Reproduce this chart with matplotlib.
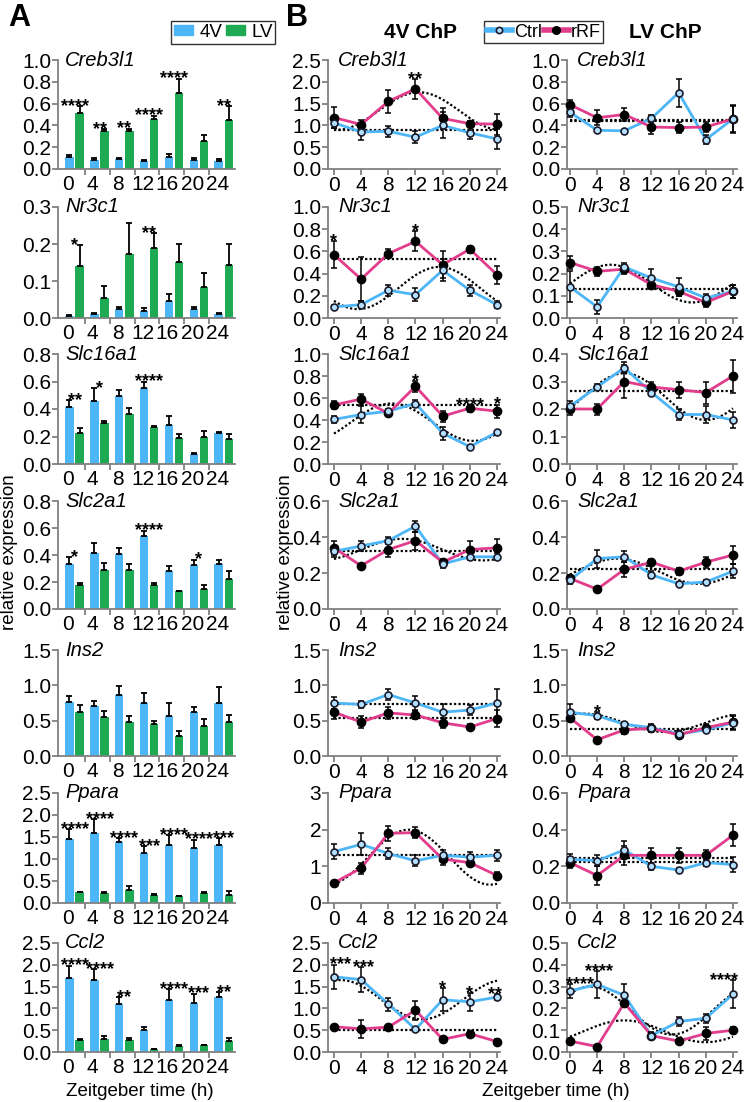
import numpy as np
import matplotlib
matplotlib.use('Agg')
import matplotlib.pyplot as plt
from matplotlib.lines import Line2D
from matplotlib.patches import Patch

plt.rcParams['font.family'] = ['Liberation Sans', 'DejaVu Sans']

# ---------------- data ----------------
TIMES = [0, 4, 8, 12, 16, 20, 24]
TIME_LABELS = ['0', '4', '8', '12', '16', '20', '24']
GENES = ['Creb3l1', 'Nr3c1', 'Slc16a1', 'Slc2a1', 'Ins2', 'Ppara', 'Ccl2']

# Panel A : bars (4V vs LV)
A_YTICKS = [[0, 0.2, 0.4, 0.6, 0.8, 1.0], [0, 0.1, 0.2, 0.3], [0, 0.2, 0.4, 0.6, 0.8],
            [0, 0.2, 0.4, 0.6, 0.8], [0, 0.5, 1.0, 1.5], [0, 0.5, 1.0, 1.5, 2.0, 2.5],
            [0, 0.5, 1.0, 1.5, 2.0, 2.5]]
A_4V_MEAN = [[0.11, 0.08, 0.09, 0.07, 0.11, 0.08, 0.07],
             [0.005, 0.01, 0.025, 0.02, 0.045, 0.025, 0.01],
             [0.417, 0.46, 0.497, 0.555, 0.284, 0.075, 0.228],
             [0.336, 0.415, 0.41, 0.54, 0.28, 0.324, 0.33],
             [0.77, 0.71, 0.86, 0.755, 0.566, 0.62, 0.745],
             [1.455, 1.6, 1.38, 1.14, 1.325, 1.25, 1.31],
             [1.70, 1.64, 1.09, 0.50, 1.19, 1.13, 1.26]]
A_4V_ERR = [[0.02, 0.02, 0.01, 0.01, 0.03, 0.02, 0.02],
            [0.002, 0.003, 0.006, 0.006, 0.02, 0.006, 0.003],
            [0.048, 0.09, 0.04, 0.045, 0.066, 0.005, 0.003],
            [0.049, 0.075, 0.04, 0.04, 0.04, 0.042, 0.036],
            [0.08, 0.07, 0.13, 0.14, 0.18, 0.08, 0.225],
            [0.225, 0.31, 0.10, 0.15, 0.225, 0.19, 0.17],
            [0.28, 0.26, 0.17, 0.08, 0.26, 0.21, 0.11]]
A_LV_MEAN = [[0.51, 0.35, 0.345, 0.46, 0.70, 0.26, 0.45],
             [0.14, 0.055, 0.172, 0.19, 0.151, 0.085, 0.143],
             [0.223, 0.296, 0.364, 0.27, 0.19, 0.20, 0.18],
             [0.175, 0.287, 0.29, 0.175, 0.133, 0.15, 0.22],
             [0.62, 0.55, 0.485, 0.45, 0.29, 0.424, 0.476],
             [0.24, 0.23, 0.30, 0.18, 0.16, 0.22, 0.19],
             [0.28, 0.30, 0.27, 0.06, 0.14, 0.15, 0.26]]
A_LV_ERR = [[0.07, 0.015, 0.025, 0.03, 0.13, 0.055, 0.13],
            [0.057, 0.031, 0.084, 0.039, 0.049, 0.037, 0.056],
            [0.037, 0.02, 0.04, 0.01, 0.03, 0.04, 0.04],
            [0.015, 0.053, 0.04, 0.02, 0.003, 0.03, 0.06],
            [0.10, 0.08, 0.08, 0.045, 0.065, 0.10, 0.10],
            [0.02, 0.02, 0.08, 0.02, 0.01, 0.03, 0.09],
            [0.02, 0.06, 0.04, 0.02, 0.02, 0.02, 0.06]]
A_STARS = [['****', '**', '**', '****', '****', '', '**'],
           ['*', '', '', '**', '', '', ''],
           ['**', '*', '', '****', '', '', ''],
           ['*', '', '', '****', '', '*', ''],
           ['', '', '', '', '', '', ''],
           ['****', '****', '****', '***', '****', '****', '***'],
           ['****', '****', '**', '', '****', '***', '**']]

# Panel B : time courses (Ctrl vs rRF), 4V ChP column and LV ChP column
B4_YTICKS = [[0, 0.5, 1.0, 1.5, 2.0, 2.5], [0, 0.2, 0.4, 0.6, 0.8, 1.0], [0, 0.2, 0.4, 0.6, 0.8, 1.0],
             [0, 0.2, 0.4, 0.6], [0, 0.5, 1.0, 1.5], [0, 1, 2, 3], [0, 0.5, 1.0, 1.5, 2.0, 2.5]]
BL_YTICKS = [[0, 0.2, 0.4, 0.6, 0.8, 1.0], [0, 0.1, 0.2, 0.3, 0.4, 0.5], [0, 0.1, 0.2, 0.3, 0.4],
             [0, 0.2, 0.4, 0.6], [0, 0.5, 1.0, 1.5], [0, 0.2, 0.4, 0.6], [0, 0.1, 0.2, 0.3, 0.4, 0.5]]
B4_YFMT = ['%.1f', '%.1f', '%.1f', '%.1f', '%.1f', '%d', '%.1f']
BL_YFMT = ['%.1f'] * 7

B4_CTRL_MEAN = [[1.06, 0.85, 0.865, 0.73, 1.0, 0.83, 0.69],
                [0.10, 0.12, 0.25, 0.21, 0.43, 0.25, 0.12],
                [0.405, 0.45, 0.48, 0.55, 0.28, 0.157, 0.29],
                [0.32, 0.35, 0.38, 0.46, 0.25, 0.29, 0.29],
                [0.75, 0.73, 0.87, 0.75, 0.62, 0.65, 0.75],
                [1.4, 1.6, 1.35, 1.15, 1.3, 1.25, 1.3],
                [1.725, 1.66, 1.1, 0.52, 1.2, 1.15, 1.26]]
B4_CTRL_ERR = [[0.12, 0.19, 0.13, 0.14, 0.3, 0.15, 0.22],
               [0.02, 0.03, 0.05, 0.06, 0.10, 0.05, 0.03],
               [0.03, 0.08, 0.02, 0.03, 0.06, 0.01, 0.01],
               [0.03, 0.03, 0.02, 0.03, 0.02, 0.02, 0.02],
               [0.08, 0.05, 0.08, 0.10, 0.12, 0.07, 0.2],
               [0.2, 0.3, 0.15, 0.15, 0.15, 0.15, 0.15],
               [0.28, 0.28, 0.15, 0.04, 0.27, 0.2, 0.07]]
B4_RRF_MEAN = [[1.18, 1.02, 1.55, 1.84, 1.16, 1.04, 1.03],
               [0.57, 0.35, 0.58, 0.69, 0.48, 0.62, 0.39],
               [0.537, 0.59, 0.46, 0.706, 0.435, 0.507, 0.48],
               [0.34, 0.24, 0.33, 0.38, 0.26, 0.33, 0.34],
               [0.62, 0.48, 0.61, 0.58, 0.47, 0.41, 0.53],
               [0.55, 0.95, 1.9, 1.92, 1.2, 1.1, 0.75],
               [0.58, 0.53, 0.57, 0.96, 0.29, 0.42, 0.24]]
B4_RRF_ERR = [[0.24, 0.1, 0.27, 0.23, 0.25, 0.05, 0.24],
              [0.12, 0.2, 0.04, 0.09, 0.12, 0.03, 0.08],
              [0.04, 0.05, 0.02, 0.05, 0.05, 0.03, 0.06],
              [0.04, 0.01, 0.04, 0.05, 0.02, 0.05, 0.05],
              [0.1, 0.08, 0.08, 0.05, 0.07, 0.04, 0.12],
              [0.05, 0.15, 0.2, 0.15, 0.15, 0.1, 0.1],
              [0.05, 0.2, 0.02, 0.22, 0.03, 0.07, 0.06]]
BL_CTRL_MEAN = [[0.52, 0.355, 0.35, 0.465, 0.70, 0.27, 0.46],
                [0.14, 0.05, 0.23, 0.18, 0.14, 0.09, 0.12],
                [0.21, 0.28, 0.35, 0.26, 0.18, 0.18, 0.16],
                [0.16, 0.28, 0.29, 0.19, 0.14, 0.15, 0.21],
                [0.62, 0.57, 0.45, 0.40, 0.31, 0.37, 0.47],
                [0.24, 0.23, 0.29, 0.20, 0.18, 0.22, 0.21],
                [0.28, 0.31, 0.26, 0.075, 0.14, 0.155, 0.265]]
BL_CTRL_ERR = [[0.04, 0.01, 0.01, 0.03, 0.13, 0.04, 0.13],
               [0.07, 0.03, 0.02, 0.04, 0.04, 0.02, 0.03],
               [0.02, 0.01, 0.02, 0.01, 0.02, 0.03, 0.03],
               [0.02, 0.05, 0.03, 0.02, 0.01, 0.01, 0.04],
               [0.12, 0.05, 0.03, 0.05, 0.05, 0.03, 0.1],
               [0.03, 0.03, 0.05, 0.02, 0.01, 0.02, 0.04],
               [0.03, 0.06, 0.05, 0.01, 0.02, 0.02, 0.065]]
BL_RRF_MEAN = [[0.59, 0.47, 0.50, 0.385, 0.38, 0.385, 0.46],
               [0.25, 0.21, 0.22, 0.15, 0.12, 0.07, 0.12],
               [0.20, 0.20, 0.30, 0.28, 0.27, 0.26, 0.32],
               [0.17, 0.11, 0.22, 0.26, 0.21, 0.26, 0.30],
               [0.54, 0.23, 0.37, 0.39, 0.30, 0.40, 0.48],
               [0.22, 0.15, 0.26, 0.26, 0.26, 0.26, 0.37],
               [0.05, 0.025, 0.225, 0.075, 0.05, 0.085, 0.10]]
BL_RRF_ERR = [[0.04, 0.07, 0.06, 0.06, 0.05, 0.05, 0.12],
              [0.03, 0.02, 0.02, 0.02, 0.02, 0.02, 0.03],
              [0.02, 0.02, 0.06, 0.02, 0.03, 0.04, 0.06],
              [0.02, 0.005, 0.04, 0.02, 0.02, 0.03, 0.05],
              [0.05, 0.03, 0.06, 0.05, 0.05, 0.05, 0.1],
              [0.03, 0.05, 0.05, 0.04, 0.04, 0.03, 0.06],
              [0.01, 0.005, 0.01, 0.015, 0.01, 0.03, 0.015]]

# cosinor fits: (mesor, amplitude, acrophase h); amplitude 0 = flat line
B4_CTRL_FIT = [(0.9, 0, 0), (0.27, 0.19, 15.5), (0.38, 0.17, 8.5), (0.33, 0.06, 10),
               (0.73, 0, 0), (1.3, 0, 0), (1.2, 0.45, 1)]
B4_RRF_FIT = [(1.33, 0.43, 12.5), (0.53, 0, 0), (0.535, 0, 0), (0.32, 0, 0),
              (0.54, 0, 0), (1.25, 0.75, 11), (0.5, 0, 0)]
BL_CTRL_FIT = [(0.45, 0, 0), (0.13, 0, 0), (0.245, 0.085, 8), (0.21, 0.07, 7),
               (0.47, 0.13, 2), (0.245, 0, 0), (0.19, 0.11, 3)]
BL_RRF_FIT = [(0.44, 0, 0), (0.155, 0.085, 6), (0.265, 0, 0), (0.22, 0, 0),
              (0.38, 0, 0), (0.225, 0, 0), (0.095, 0.05, 8)]

# stars: (time, text, series above which they sit, horizontal nudge in h)
B4_STARS = [[(12, '**', 'rrf', 0)], [(0, '*', 'rrf', 0), (12, '*', 'rrf', 0)],
            [(12, '*', 'rrf', 0), (20, '****', 'rrf', 0), (24, '*', 'rrf', 0)], [], [], [],
            [(0, '***', 'ctrl', 1.0), (4, '***', 'ctrl', 0.3), (16, '*', 'ctrl', 0),
             (20, '*', 'ctrl', 0), (24, '**', 'ctrl', -0.3)]]
BL_STARS = [[], [], [], [], [(4, '*', 'ctrl', 0)], [],
            [(0, '****', 'ctrl', 1.5), (4, '****', 'ctrl', 0.3), (24, '****', 'ctrl', -1.3)]]

# ---------------- style ----------------
BLUE = '#4DB6F7'
GREEN = '#1EAA52'
PINK = '#E23C8C'
CTRL_FACE = '#B3E0FF'
GREY = '#808080'
TICK_FS = 15
GENE_FS = 14.5
STAR_FS = 13

W, H = 750, 1102
fig = plt.figure(figsize=(7.5, 11.02), dpi=100)

ROW_TOP = [60, 207, 354, 501, 650, 793, 943]
ROW_BOT = [169, 318, 464, 609, 756, 903, 1052]


def ax_at(left, right, top, bot):
    return fig.add_axes([left / W, 1 - bot / H, (right - left) / W, (bot - top) / H])


def style(ax, yticks, fmt):
    for s in ['top', 'right']:
        ax.spines[s].set_visible(False)
    for s in ['left', 'bottom']:
        ax.spines[s].set_color(GREY)
        ax.spines[s].set_linewidth(1.3)
    ax.set_ylim(0, yticks[-1])
    ax.spines['left'].set_bounds(0, yticks[-1])
    ax.set_yticks(yticks)
    ax.set_yticklabels([fmt % v for v in yticks])
    ax.tick_params(axis='both', colors=GREY, labelcolor='black', labelsize=TICK_FS,
                   length=4, width=1.3, pad=1)
    ax.patch.set_alpha(0)


def stars(ax, x, y, txt):
    ax.annotate(txt, (x, y), xytext=(0, -3.5), textcoords='offset points',
                ha='center', va='baseline', fontsize=STAR_FS, fontweight='bold',
                annotation_clip=False)


# ---------------- panel A ----------------
idx = np.arange(len(TIMES))
for r in range(7):
    ax = ax_at(58, 235, ROW_TOP[r], ROW_BOT[r])
    style(ax, A_YTICKS[r], '%.1f')
    ax.bar(idx + 0.06, A_4V_MEAN[r], 0.34, color=BLUE, zorder=2)
    ax.bar(idx + 0.47, A_LV_MEAN[r], 0.34, color=GREEN, zorder=2)
    ax.errorbar(idx + 0.06, A_4V_MEAN[r], yerr=[np.zeros(7), A_4V_ERR[r]], fmt='none',
                ecolor='black', elinewidth=1.3, capsize=2.5, capthick=1.3, zorder=3)
    ax.errorbar(idx + 0.47, A_LV_MEAN[r], yerr=[np.zeros(7), A_LV_ERR[r]], fmt='none',
                ecolor='black', elinewidth=1.3, capsize=2.5, capthick=1.3, zorder=3)
    ax.set_xlim(-0.4, 6.72)
    ax.set_xticks(idx)
    ax.set_xticklabels(TIME_LABELS)
    ax.set_xticks(idx[:-1] + 0.68, minor=True)
    ax.tick_params(axis='x', which='major', length=0, pad=4)
    ax.tick_params(axis='x', which='minor', colors=GREY, length=4, width=1.3)
    for i in range(7):
        if A_STARS[r][i]:
            top = max(A_4V_MEAN[r][i] + A_4V_ERR[r][i], A_LV_MEAN[r][i] + A_LV_ERR[r][i])
            stars(ax, i + 0.27, top, A_STARS[r][i])
    ax.text(0.04, 1.0, GENES[r], transform=ax.transAxes, ha='left', va='center',
            fontsize=GENE_FS, style='italic')

# ---------------- panel B ----------------
tt = np.linspace(0, 24, 200)


def draw_fit(ax, fit):
    mes, amp, ph = fit
    y = mes + amp * np.cos(2 * np.pi * (tt - ph) / 24)
    ax.plot(tt, y, color='black', ls=(0, (1, 1)), lw=1.6, zorder=1, clip_on=False)


def draw_b(ax, cm, ce, rm, re, cfit, rfit, st):
    draw_fit(ax, cfit)
    draw_fit(ax, rfit)
    ax.plot(TIMES, cm, color=BLUE, lw=2, zorder=2, clip_on=False)
    ax.plot(TIMES, rm, color=PINK, lw=2, zorder=2, clip_on=False)
    ax.errorbar(TIMES, cm, yerr=ce, fmt='none', ecolor='black', elinewidth=1.1,
                capsize=2.5, capthick=1.1, zorder=3, clip_on=False)
    ax.errorbar(TIMES, rm, yerr=re, fmt='none', ecolor='black', elinewidth=1.1,
                capsize=2.5, capthick=1.1, zorder=3, clip_on=False)
    ax.plot(TIMES, rm, 'o', ms=6, color='black', zorder=4, clip_on=False)
    ax.plot(TIMES, cm, 'o', ms=5, mfc=CTRL_FACE, mec='#1a1a2a', mew=1.2, zorder=5, clip_on=False)
    for t, txt, which, dx in st:
        i = TIMES.index(t)
        top = (cm[i] + ce[i]) if which == 'ctrl' else (rm[i] + re[i])
        stars(ax, t + dx, top, txt)
    ax.set_xticks(TIMES)
    ax.set_xticklabels(TIME_LABELS)


for r in range(7):
    ax = ax_at(328, 500, ROW_TOP[r], ROW_BOT[r])
    style(ax, B4_YTICKS[r], B4_YFMT[r])
    ax.set_xlim(-0.88, 24.44)
    draw_b(ax, B4_CTRL_MEAN[r], B4_CTRL_ERR[r], B4_RRF_MEAN[r], B4_RRF_ERR[r],
           B4_CTRL_FIT[r], B4_RRF_FIT[r], B4_STARS[r])
    ax.text(0.06, 1.0, GENES[r], transform=ax.transAxes, ha='left', va='center',
            fontsize=GENE_FS, style='italic')

    ax = ax_at(567, 737, ROW_TOP[r], ROW_BOT[r])
    style(ax, BL_YTICKS[r], BL_YFMT[r])
    ax.set_xlim(-0.44, 24.59)
    draw_b(ax, BL_CTRL_MEAN[r], BL_CTRL_ERR[r], BL_RRF_MEAN[r], BL_RRF_ERR[r],
           BL_CTRL_FIT[r], BL_RRF_FIT[r], BL_STARS[r])
    ax.text(0.06, 1.0, GENES[r], transform=ax.transAxes, ha='left', va='center',
            fontsize=GENE_FS, style='italic')

# ---------------- texts & legends ----------------
fig.text(8 / W, 1 - 18 / H, 'A', fontsize=22, fontweight='bold', va='center', ha='left')
fig.text(286 / W, 1 - 18 / H, 'B', fontsize=22, fontweight='bold', va='center', ha='left')
fig.text(420 / W, 1 - 33 / H, '4V ChP', fontsize=15, fontweight='bold', va='center', ha='center')
fig.text(665 / W, 1 - 33 / H, 'LV ChP', fontsize=15, fontweight='bold', va='center', ha='center')
fig.text(10 / W, 1 - 552 / H, 'relative expression', rotation=90, fontsize=13.5,
         va='center', ha='center')
fig.text(286 / W, 1 - 552 / H, 'relative expression', rotation=90, fontsize=13.5,
         va='center', ha='center')
fig.text(140 / W, 1 - 1092 / H, 'Zeitgeber time (h)', fontsize=13.5, va='center', ha='center')
fig.text(556 / W, 1 - 1092 / H, 'Zeitgeber time (h)', fontsize=13.5, va='center', ha='center')

legA = fig.legend([Patch(color=BLUE), Patch(color=GREEN)], ['4V', 'LV'],
                  loc='upper left', bbox_to_anchor=(171 / W, 1 - 21 / H), ncol=2,
                  frameon=True, fancybox=False, edgecolor='black', fontsize=13.5,
                  handlelength=1.0, handleheight=0.4, handletextpad=0.35,
                  columnspacing=0.2, borderpad=0.15, borderaxespad=0)
legA.get_frame().set_linewidth(1.0)

h_ctrl = Line2D([], [], color=BLUE, lw=4, marker='o', ms=4.5, mfc=CTRL_FACE, mec='#1a1a2a', mew=1.2)
h_rrf = Line2D([], [], color=PINK, lw=4, marker='o', ms=5.5, mfc='black', mec='black')
legB = fig.legend([h_ctrl, h_rrf], ['Ctrl', 'rRF'], loc='upper left',
                  bbox_to_anchor=(484 / W, 1 - 21 / H), ncol=2, frameon=True, fancybox=False,
                  edgecolor='black', fontsize=13, handlelength=1.4, handletextpad=0.1,
                  columnspacing=0.1, borderpad=0.15, borderaxespad=0)
legB.get_frame().set_linewidth(1.0)

fig.savefig('out.png', dpi=100)
